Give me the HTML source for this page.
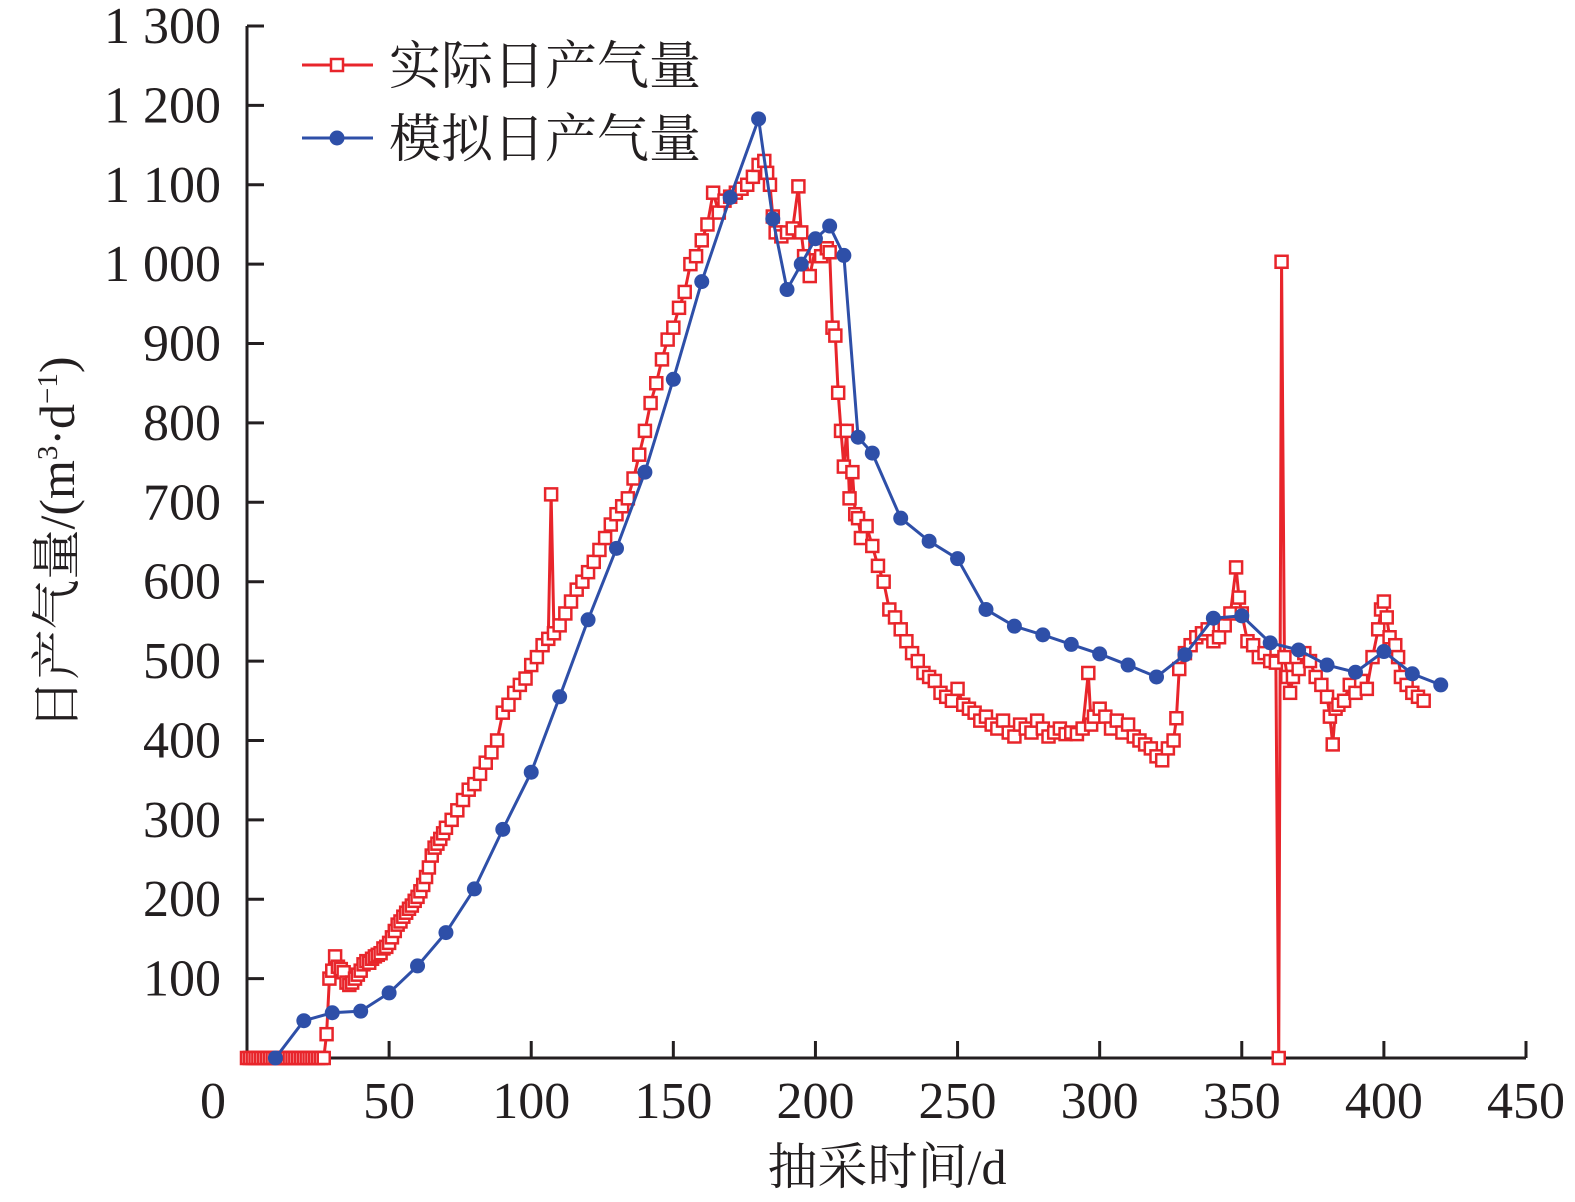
<!DOCTYPE html>
<html><head><meta charset="utf-8"><style>
html,body{margin:0;padding:0;background:#fff;overflow:hidden;width:1575px;height:1202px}
svg{display:block}
svg text{font-family:"Liberation Serif","Noto Serif CJK SC",serif;fill:#231f20}
</style></head><body>
<svg id="chart" width="1575" height="1202" xmlns="http://www.w3.org/2000/svg">
<g id="axes"></g><g id="plot"></g>
<g>
<line x1="302" y1="65" x2="373" y2="65" stroke="#e8252b" stroke-width="3"/>
<rect x="331" y="59" width="12" height="12" fill="#fff" stroke="#e8252b" stroke-width="2.5"/>
<text x="389" y="84" font-size="52">实际日产气量</text>
<line x1="302" y1="138" x2="373" y2="138" stroke="#2e4fa8" stroke-width="3"/>
<circle cx="337" cy="138" r="7.5" fill="#2e4fa8"/>
<text x="389" y="157" font-size="52">模拟日产气量</text>
</g>
<text x="887" y="1184" font-size="50" text-anchor="middle">抽采时间/d</text>
<text transform="translate(74,543) rotate(-90)" font-size="50" text-anchor="middle">日产气量/(m<tspan font-size="29" dy="-17">3</tspan><tspan dy="17">·d</tspan><tspan font-size="29" dy="-17">−1</tspan><tspan dy="17">)</tspan></text>
</svg>
<script>
const xTicks=[0,50,100,150,200,250,300,350,400,450];
const yTicks=[100,200,300,400,500,600,700,800,900,1000,1100,1200,1300];
const yTickLabels=["100","200","300","400","500","600","700","800","900","1 000","1 100","1 200","1 300"];
const simDays=[10,20,30,40,50,60,70,80,90,100,110,120,130,140,150,160,170,180,185,190,195,200,205,210,215,220,230,240,250,260,270,280,290,300,310,320,330,340,350,360,370,380,390,400,410,420];
const simValues=[0,47,57,59,82,116,158,213,288,360,455,552,642,738,855,978,1084,1183,1057,968,1000,1032,1048,1011,782,762,680,651,629,565,544,533,521,509,495,480,508,554,557,523,514,495,486,512,484,470];
const actDays=[0,1,2,3,4,5,6,7,8,9,10,11,12,13,14,15,16,17,18,19,20,21,22,23,24,25,26,27,28,29,30,31,32,33,34,35,36,37,38,39,40,41,42,43,44,45,46,47,48,49,50,51,52,53,54,55,56,57,58,59,60,61,62,63,64,65,66,67,68,69,70,72,74,76,78,80,82,84,86,88,90,92,94,96,98,100,102,104,106,107,108,110,112,114,116,118,120,122,124,126,128,130,132,134,136,138,140,142,144,146,148,150,152,154,156,158,160,162,164,166,168,170,172,174,176,178,180,182,183,184,185,186,188,190,192,194,195,196,198,200,202,204,205,206,207,208,209,210,211,212,213,214,215,216,218,220,222,224,226,228,230,232,234,236,238,240,242,244,246,248,250,252,254,256,258,260,262,264,266,268,270,272,274,276,278,280,282,284,286,288,290,292,294,296,297,298,300,302,304,306,308,310,312,314,316,318,320,322,324,326,327,328,330,332,334,336,338,340,342,344,346,348,349,350,352,354,356,358,360,362,363,364,365,366,367,368,370,372,374,376,378,380,381,382,383,384,386,388,390,392,394,396,398,399,400,401,402,404,405,406,408,410,412,414];
const actValues=[0,0,0,0,0,0,0,0,0,0,0,0,0,0,0,0,0,0,0,0,0,0,0,0,0,0,0,0,30,100,110,128,115,112,108,95,92,95,100,105,110,118,122,120,125,128,130,132,138,140,145,152,160,168,172,178,183,188,192,198,203,210,218,228,240,255,265,270,276,283,290,300,312,325,338,345,358,372,385,400,435,445,460,470,478,495,505,520,528,710,535,545,560,575,590,600,612,625,640,655,672,685,695,705,730,760,790,825,850,880,905,920,945,965,1000,1010,1030,1050,1090,1065,1080,1085,1090,1095,1100,1110,1125,1130,1115,1100,1060,1040,1035,1040,1045,1098,1040,1010,985,1020,1010,1020,1015,920,910,838,790,745,790,705,738,685,680,655,670,645,620,600,565,555,540,525,510,500,485,480,475,460,455,450,465,445,440,435,425,430,420,415,425,410,405,420,415,410,425,415,405,410,415,408,410,408,415,485,420,430,440,430,415,425,410,420,405,400,395,390,380,375,390,400,428,490,510,520,530,535,540,525,530,545,560,618,580,560,525,520,505,510,500,498,0,1003,505,480,460,480,490,510,500,480,470,455,430,395,440,445,450,470,460,475,465,505,540,565,575,555,530,520,505,480,470,460,455,450];
const X=v=>247+v*(1279/450);
const Y=v=>1058-v*(1032/1300);
const NS="http://www.w3.org/2000/svg";
function mk(tag,attrs,parent){const e=document.createElementNS(NS,tag);for(const k in attrs)e.setAttribute(k,attrs[k]);parent.appendChild(e);return e;}
const axes=document.getElementById('axes'),plot=document.getElementById('plot');
let a=mk('line',{x1:247,y1:Y(1300),x2:247,y2:1059.5,stroke:'#231f20','stroke-width':3},axes);


a=mk('line',{x1:245.5,y1:1058,x2:1526,y2:1058,stroke:'#231f20','stroke-width':3},axes);


yTicks.forEach((v,i)=>{
 mk('line',{x1:247,y1:Y(v),x2:264,y2:Y(v),stroke:'#231f20','stroke-width':3},axes);
 const t=mk('text',{x:221,y:Y(v)+17,'font-size':52,'text-anchor':'end'},axes);
 t.textContent=yTickLabels[i];
 
 
});
xTicks.forEach(v=>{
 if(v>0)mk('line',{x1:X(v),y1:1058,x2:X(v),y2:1041,stroke:'#231f20','stroke-width':3},axes);
 const t=mk('text',{x:v===0?213:X(v),y:1118,'font-size':52,'text-anchor':'middle'},axes);
 t.textContent=String(v);
 
 
});
let p=mk('polyline',{points:actDays.map((d,i)=>X(d)+','+Y(actValues[i])).join(' '),fill:'none',stroke:'#e8252b','stroke-width':3},plot);


actDays.forEach((d,i)=>{
 const r=mk('rect',{x:X(d)-6,y:Y(actValues[i])-6,width:12,height:12,fill:'#fff',stroke:'#e8252b','stroke-width':2.5},plot);
 
 
});
p=mk('polyline',{points:simDays.map((d,i)=>X(d)+','+Y(simValues[i])).join(' '),fill:'none',stroke:'#2e4fa8','stroke-width':3},plot);


simDays.forEach((d,i)=>{
 const c=mk('circle',{cx:X(d),cy:Y(simValues[i]),r:7.5,fill:'#2e4fa8'},plot);
 
 
});
</script>
</body></html>
